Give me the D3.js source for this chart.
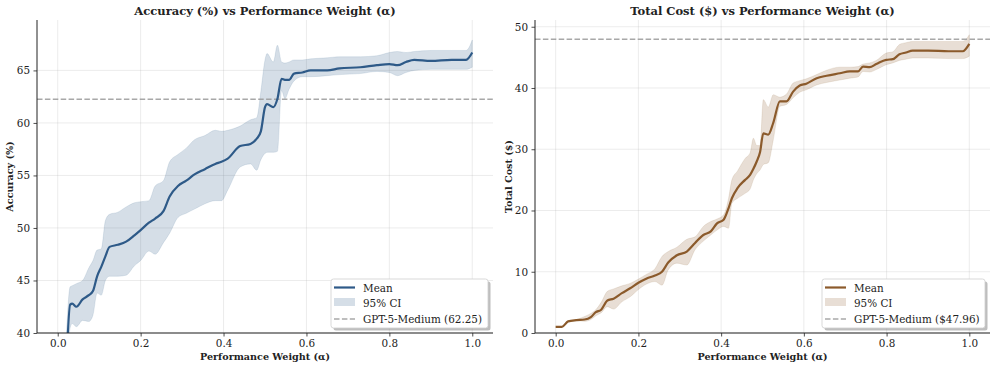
<!DOCTYPE html>
<html>
<head>
<meta charset="utf-8">
<script src="https://cdn.jsdelivr.net/npm/d3@7"></script>
<style>
  body { margin: 0; background: #fff; }
  svg text { font-family: "DejaVu Serif", serif; fill: #222; }
  .title { font-weight: bold; font-size: 11.5px; }
  .axlabel { font-weight: bold; font-size: 9.6px; }
  .tick text { font-size: 10.4px; }
  .legend text { font-size: 10.4px; }
</style>
</head>
<body>
<div id="chart"></div>
<script>
// ---- data ----
const accAlpha = [0.02, 0.03, 0.035, 0.045, 0.06, 0.075, 0.085, 0.095, 0.105, 0.115, 0.125, 0.145, 0.165, 0.185, 0.2, 0.22, 0.235, 0.255, 0.27, 0.29, 0.31, 0.33, 0.355, 0.38, 0.395, 0.41, 0.44, 0.465, 0.48, 0.49, 0.5, 0.505, 0.52, 0.53, 0.54, 0.548, 0.558, 0.57, 0.59, 0.61, 0.65, 0.68, 0.73, 0.77, 0.8, 0.82, 0.84, 0.86, 0.9, 0.95, 0.985, 1.0]
const accMean  = [36.0, 42.7, 42.8, 42.5, 43.2, 43.6, 44.0, 45.4, 46.3, 47.3, 48.2, 48.4, 48.7, 49.3, 49.8, 50.5, 50.9, 51.6, 53.0, 54.0, 54.5, 55.1, 55.6, 56.1, 56.3, 56.6, 57.8, 58.0, 58.5, 59.2, 61.5, 61.8, 61.5, 62.3, 64.2, 64.1, 64.1, 64.7, 64.8, 65.0, 65.0, 65.2, 65.3, 65.5, 65.6, 65.5, 65.8, 66.0, 65.9, 66.0, 66.0, 66.7]
const accLower = [33.0, 40.5, 40.9, 40.6, 41.2, 41.1, 41.7, 43.8, 43.6, 45.0, 45.4, 45.4, 45.5, 46.4, 46.9, 47.8, 47.5, 48.6, 49.5, 51.0, 51.4, 51.8, 52.3, 52.6, 52.6, 53.6, 55.8, 56.1, 55.5, 56.5, 57.1, 57.2, 57.2, 57.3, 63.1, 62.3, 63.2, 64.0, 64.4, 64.4, 64.5, 64.6, 64.7, 64.9, 64.8, 64.5, 64.8, 65.0, 65.1, 65.1, 65.1, 65.3]
const accUpper = [39.0, 44.4, 44.5, 44.7, 45.0, 46.2, 46.9, 47.9, 48.0, 50.7, 51.3, 51.5, 52.0, 52.4, 52.5, 52.6, 54.0, 54.5, 56.3, 57.0, 57.6, 58.4, 58.8, 59.3, 59.2, 59.3, 59.7, 60.3, 60.5, 63.0, 66.0, 66.6, 65.8, 67.4, 65.8, 65.7, 65.8, 66.0, 66.0, 66.1, 66.2, 66.3, 66.3, 66.4, 66.7, 66.8, 66.7, 66.8, 66.9, 66.9, 66.9, 67.9]

const costAlpha = [0.0, 0.015, 0.03, 0.05, 0.07, 0.085, 0.097, 0.11, 0.125, 0.14, 0.16, 0.18, 0.2, 0.22, 0.24, 0.257, 0.272, 0.293, 0.317, 0.337, 0.357, 0.375, 0.39, 0.406, 0.418, 0.426, 0.44, 0.458, 0.47, 0.478, 0.486, 0.494, 0.502, 0.514, 0.526, 0.542, 0.558, 0.574, 0.59, 0.606, 0.631, 0.655, 0.687, 0.711, 0.731, 0.743, 0.759, 0.775, 0.799, 0.815, 0.831, 0.847, 0.863, 0.9, 0.95, 0.984, 1.0]
const costMean  = [1.0, 1.0, 1.9, 2.1, 2.2, 2.6, 3.4, 3.8, 5.3, 5.6, 6.5, 7.3, 8.2, 8.9, 9.4, 10.0, 11.5, 12.7, 13.3, 14.7, 16.0, 16.6, 17.9, 18.5, 20.4, 22.0, 23.7, 25.0, 25.8, 26.8, 28.0, 29.5, 32.6, 32.4, 34.3, 37.8, 37.8, 39.4, 40.4, 40.7, 41.6, 42.0, 42.4, 42.7, 42.7, 43.5, 43.4, 43.9, 44.6, 44.7, 45.5, 45.8, 46.1, 46.1, 46.0, 46.0, 47.2]
const costLower = [1.0, 1.0, 1.9, 2.0, 1.9, 2.2, 2.8, 3.3, 4.3, 3.9, 5.1, 5.9, 7.1, 8.0, 8.4, 7.8, 10.3, 11.4, 11.1, 13.6, 15.0, 16.0, 16.8, 17.4, 17.1, 21.2, 22.0, 22.8, 23.5, 25.0, 26.0, 26.6, 27.5, 27.8, 31.5, 37.0, 37.3, 38.4, 39.3, 39.7, 40.5, 40.9, 41.3, 41.6, 41.8, 42.7, 42.6, 43.0, 43.8, 44.1, 44.5, 44.7, 44.9, 44.9, 44.8, 44.8, 45.2]
const costUpper = [1.0, 1.0, 1.9, 2.2, 2.7, 3.2, 3.8, 5.0, 6.8, 7.2, 7.7, 8.1, 8.8, 9.6, 10.5, 12.5, 13.3, 14.0, 15.3, 15.7, 17.4, 18.2, 18.6, 19.3, 22.0, 25.0, 26.5, 28.5, 29.4, 31.8, 30.6, 30.6, 38.1, 36.9, 38.9, 38.5, 39.0, 40.8, 41.2, 41.5, 42.2, 42.9, 43.4, 43.4, 43.5, 43.9, 44.1, 44.5, 45.7, 45.9, 47.1, 47.4, 47.6, 47.6, 47.6, 47.6, 48.7]

const xTicks = [0, 0.2, 0.4, 0.6, 0.8, 1.0]
const accTicks = [40, 45, 50, 55, 60, 65]
const costTicks = [0, 10, 20, 30, 40, 50]
const accBaseline = 62.25
const costBaseline = 47.96

const W = 997, H = 368
const svg = d3.select("#chart").append("svg").attr("width", W).attr("height", H)

function panel(opt) {
  const x = d3.scaleLinear().domain([-0.05, 1.05]).range([opt.left, opt.right])
  const y = d3.scaleLinear().domain(opt.yDomain).range([333, 20])
  const g = svg.append("g")

  // grid
  g.append("g").selectAll("line").data(xTicks).join("line")
    .attr("x1", d => x(d)).attr("x2", d => x(d)).attr("y1", 20).attr("y2", 333)
    .attr("stroke", "#b0b0b0").attr("stroke-opacity", 0.3).attr("stroke-width", 0.8)
  g.append("g").selectAll("line").data(opt.yTicks).join("line")
    .attr("x1", opt.left).attr("x2", opt.right).attr("y1", d => y(d)).attr("y2", d => y(d))
    .attr("stroke", "#b0b0b0").attr("stroke-opacity", 0.3).attr("stroke-width", 0.8)

  const clipId = "clip" + opt.id
  svg.append("clipPath").attr("id", clipId).append("rect")
    .attr("x", opt.left).attr("y", 20).attr("width", opt.right - opt.left).attr("height", 313)
  const plot = g.append("g").attr("clip-path", "url(#" + clipId + ")")

  const rows = opt.alpha.map((a, i) => ({a: a, m: opt.mean[i], lo: opt.lower[i], hi: opt.upper[i]}))
  const area = d3.area().curve(d3.curveMonotoneX)
    .x(d => x(d.a)).y0(d => y(d.lo)).y1(d => y(d.hi))
  const line = d3.line().curve(d3.curveMonotoneX)
    .x(d => x(d.a)).y(d => y(d.m))

  plot.append("path").datum(rows).attr("d", area)
    .attr("fill", opt.color).attr("fill-opacity", 0.2)
    .attr("stroke", opt.color).attr("stroke-opacity", 0.15).attr("stroke-width", 0.8)
  plot.append("line")
    .attr("x1", opt.left).attr("x2", opt.right)
    .attr("y1", y(opt.baseline)).attr("y2", y(opt.baseline))
    .attr("stroke", "#999").attr("stroke-opacity", 0.85).attr("stroke-width", 1.5)
    .attr("stroke-dasharray", "5.5,2.4")
  plot.append("path").datum(rows).attr("d", line)
    .attr("fill", "none").attr("stroke", opt.color).attr("stroke-width", 2.2)
    .attr("stroke-linejoin", "round")

  // axes
  const xAxis = g.append("g").attr("transform", "translate(0,333)")
    .call(d3.axisBottom(x).tickValues(xTicks).tickFormat(d3.format(".1f")).tickSize(3.5).tickPadding(3.5))
  const yAxis = g.append("g").attr("transform", "translate(" + opt.left + ",0)")
    .call(d3.axisLeft(y).tickValues(opt.yTicks).tickFormat(d3.format("d")).tickSize(3.5).tickPadding(3.5))
  for (const ax of [xAxis, yAxis]) {
    ax.select(".domain").attr("stroke", "#222").attr("stroke-width", 1)
    ax.selectAll(".tick line").attr("stroke", "#222").attr("stroke-width", 0.8)
    ax.attr("font-family", null).attr("font-size", null)
  }
  xAxis.select(".domain").attr("d", "M" + opt.left + ",0H" + opt.right)
  yAxis.select(".domain").attr("d", "M0,20V333")

  const cx = (opt.left + opt.right) / 2
  g.append("text").attr("class", "title").attr("x", cx).attr("y", 14.5)
    .attr("text-anchor", "middle").text(opt.title)
  g.append("text").attr("class", "axlabel").attr("x", cx).attr("y", 360)
    .attr("text-anchor", "middle").text("Performance Weight (α)")
  g.append("text").attr("class", "axlabel")
    .attr("transform", "translate(" + opt.ylabelX + ",176.5) rotate(-90)")
    .attr("text-anchor", "middle").text(opt.ylabel)

  // legend
  const lg = g.append("g").attr("class", "legend").attr("transform", "translate(" + opt.legX + ",279)")
  const lw = opt.right - 5 - opt.legX
  lg.append("rect").attr("x", 2.5).attr("y", 2.5).attr("width", lw).attr("height", 49).attr("rx", 2.5)
    .attr("fill", "#888").attr("fill-opacity", 0.55)
  lg.append("rect").attr("x", 0).attr("y", 0).attr("width", lw).attr("height", 49).attr("rx", 2.5)
    .attr("fill", "#fff").attr("stroke", "#cfcfcf").attr("stroke-width", 0.8)
  lg.append("line").attr("x1", 3).attr("x2", 24).attr("y1", 8.5).attr("y2", 8.5)
    .attr("stroke", opt.color).attr("stroke-width", 2.2)
  lg.append("rect").attr("x", 3).attr("y", 19).attr("width", 21).attr("height", 8)
    .attr("fill", opt.color).attr("fill-opacity", 0.2)
  lg.append("line").attr("x1", 3).attr("x2", 24).attr("y1", 40).attr("y2", 40)
    .attr("stroke", "#999").attr("stroke-opacity", 0.85).attr("stroke-width", 1.5).attr("stroke-dasharray", "5.5,2.4")
  const labels = ["Mean", "95% CI", opt.baseLabel]
  lg.selectAll("text.item").data(labels).join("text").attr("class", "item")
    .attr("x", 32).attr("y", (d, i) => 12.5 + i * 15.7).text(d => d)
}

panel({id: "acc", left: 37, right: 493, yDomain: [40, 69.8], yTicks: accTicks,
  alpha: accAlpha, mean: accMean, lower: accLower, upper: accUpper, baseline: accBaseline,
  color: "#2E5A88", title: "Accuracy (%) vs Performance Weight (α)", ylabel: "Accuracy (%)",
  ylabelX: 13, legX: 331, baseLabel: "GPT-5-Medium (62.25)"})
panel({id: "cost", left: 535, right: 990, yDomain: [0, 51.1], yTicks: costTicks,
  alpha: costAlpha, mean: costMean, lower: costLower, upper: costUpper, baseline: costBaseline,
  color: "#8B5A2B", title: "Total Cost ($) vs Performance Weight (α)", ylabel: "Total Cost ($)",
  ylabelX: 512, legX: 822, baseLabel: "GPT-5-Medium ($47.96)"})
</script>
</body>
</html>
